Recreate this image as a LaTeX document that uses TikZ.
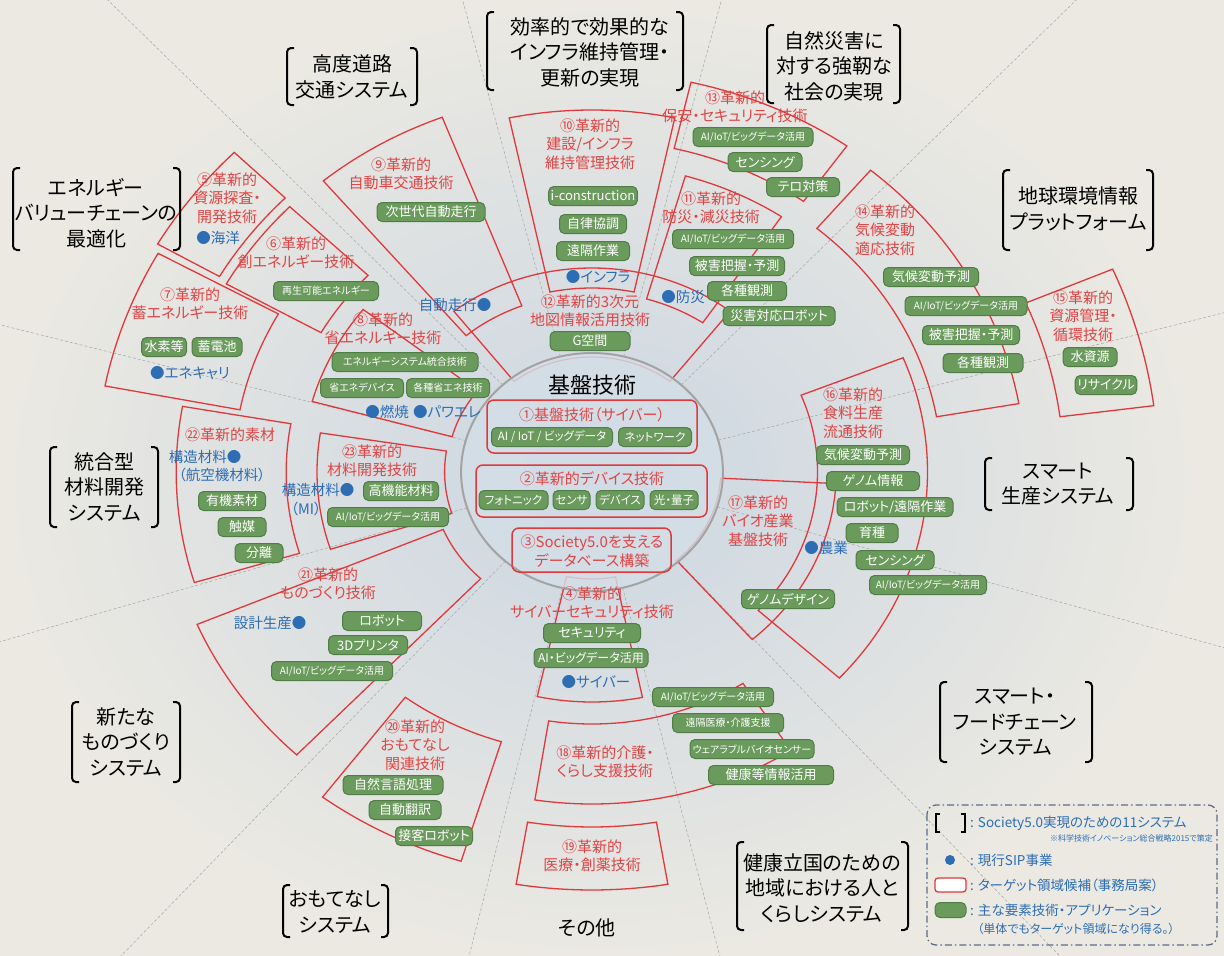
\documentclass[tikz,border=0pt]{standalone}
\usepackage{fontspec}
\setmainfont[RawFeature=+palt]{Noto Sans CJK JP}
\definecolor{bgc}{HTML}{EBE9E2}
\definecolor{bluebg}{HTML}{CBD6E2}
\definecolor{redl}{HTML}{E0383B}
\definecolor{redt}{HTML}{E04444}
\definecolor{pillg}{HTML}{6A9A5C}
\definecolor{pillb}{HTML}{4F7D45}
\definecolor{bluet}{HTML}{2D6DB3}
\definecolor{circf}{HTML}{D4DEE8}
\definecolor{circb}{HTML}{A3A3A3}
\definecolor{legc}{HTML}{5B6C8C}
\definecolor{radc}{HTML}{A5A5A5}
\newcommand\fansec[5][]{\draw[fanline,#1] (#2:#4pt) arc[start angle=#2,end angle=#3,radius=#4pt] -- (#3:#5pt) arc[start angle=#3,end angle=#2,radius=#5pt] -- cycle;}
\newcommand\brkt[4]{\draw[brk] (#1+7,#3) -- (#1,#3) -- (#1,#4) -- (#1+7,#4);
  \draw[brk] (#2-7,#3) -- (#2,#3) -- (#2,#4) -- (#2-7,#4);}
\begin{document}
\begin{tikzpicture}[x=1pt,y=-1pt,
  fanscope/.style={shift={(592,472)},xscale=1.1},
  fanline/.style={draw=redl,line width=1.3pt,line join=miter},
  radline/.style={draw=radc,line width=0.5pt,dash pattern=on 3pt off 2pt},
  rlab/.style={text=redt,align=center,inner sep=0pt,font=\fontsize{15}{18.5}\selectfont},
  blab/.style={text=bluet,align=center,inner sep=0pt,font=\fontsize{14.5}{18}\selectfont},
  pill/.style={draw=pillb,fill=pillg,text=white,rounded corners=5pt,minimum height=19pt,inner xsep=2pt,inner ysep=0pt,line width=1pt},
  pl/.style={pill,font=\fontsize{13}{13}\selectfont},
  ps/.style={pill,font=\fontsize{10}{10}\selectfont},
  pc/.style={pill,font=\fontsize{11.5}{11.5}\selectfont},
  sys/.style={text=black,align=center,inner sep=0pt,font=\fontsize{20}{25.5}\selectfont},
  brk/.style={draw=black,line width=2pt,rounded corners=4pt},
  redbox/.style={draw=redl,line width=1.5pt,rounded corners=7pt},
  legt/.style={text=bluet,anchor=west,inner sep=0pt,font=\fontsize{13.5}{15}\selectfont}]
\useasboundingbox (0,0) rectangle (1224,956);
\fill[bgc] (0,0) rectangle (1224,956);
\shade[inner color=bluebg,outer color=bgc] (600,480) ellipse[x radius=600pt,y radius=480pt];
% radial separators
\begin{scope}
\clip (0,0) rectangle (1224,956);
\begin{scope}[fanscope]
\foreach \a in {15.5,47,76,104,133,164.7,-162.5,-131.5,-103,-76.5,-48.7,-17}
  \draw[radline] (\a:119pt) -- (\a:950pt);
\end{scope}
\end{scope}
% target fans
\begin{scope}[fanscope]
\fansec{135.5}{150}{391}{456}
\fansec{136}{150.5}{283}{382}
\fansec{151}{169}{326}{451}
\fansec{142}{164.5}{132}{264}
\fansec{111}{130}{178}{380}
\fansec{78}{102}{184}{362}
\fansec{56}{74}{180}{308}
\fansec{52}{128}{115}{204}
\fansec{54.6}{77}{332}{400}
\fansec{10}{50}{318}{394}
\fansec{7.4}{23.2}{429}{515}
\fansec{-42.5}{22}{205}{305}
\fansec{-49}{-3}{117}{222}
\fansec{-102.5}{-78.5}{107}{230}
\fansec{-99}{-57}{252}{332}
\fansec{-99.5}{-80.5}{355}{418}
\fansec{-127}{-107}{282}{407}
\fansec{-157}{-133.5}{147}{390}
\fansec{170}{197}{278}{378}
\fansec{171}{198}{134}{250}
% central circle
\fill[circf,fill opacity=0.82] (0,0) circle[radius=119pt];
\draw[circb,line width=2pt] (0,0) circle[radius=119pt];
\end{scope}
% central boxes
\draw[redbox] (487,400) rectangle (697,453);
\draw[redbox] (476,465) rectangle (707,517);
\draw[redbox] (512,528) rectangle (671,572);
\node[text=black,inner sep=0pt,font=\fontsize{22}{22}\selectfont] (kiban) at (592,385) {基盤技術};
\node[rlab] (t1) at (592,415) {①基盤技術（サイバー）};
\node[pc,minimum width=121pt] (c1a) at (552,437) {AI / IoT / ビッグデータ};
\node[pc,minimum width=73pt] (c1b) at (655,437) {ネットワーク};
\node[rlab] (t2) at (592,479) {②革新的デバイス技術};
\node[pc,minimum width=69pt] (c2a) at (513.5,500) {フォトニック};
\node[pc,minimum width=37pt] (c2b) at (571.5,500) {センサ};
\node[pc,minimum width=48pt] (c2c) at (620,500) {デバイス};
\node[pc,minimum width=48pt] (c2d) at (674,500) {光・量子};
\node[rlab] (t3) at (592,551) {③Society5.0を支える\\データベース構築};
% 5
\node[rlab] (t5) at (227,198) {⑤革新的\\資源探査・\\開発技術};
\node[blab] (b5) at (218,238) {●海洋};
% 6
\node[rlab] (t6) at (296,253) {⑥革新的\\創エネルギー技術};
\node[ps,minimum width=105pt] (p6a) at (326,291) {再生可能エネルギー};
% 7
\node[rlab] (t7) at (190,304) {⑦革新的\\蓄エネルギー技術};
\node[pl,minimum width=45pt] (p7a) at (164,347) {水素等};
\node[pl,minimum width=50pt] (p7b) at (217,347) {蓄電池};
\node[blab] (b7) at (190,373) {●エネキャリ};
% 8
\node[rlab] (t8) at (383,329) {⑧革新的\\省エネルギー技術};
\node[ps,minimum width=146pt] (p8a) at (405,362) {エネルギーシステム統合技術};
\node[ps,minimum width=83pt] (p8b) at (362,388) {省エネデバイス};
\node[ps,minimum width=83pt] (p8c) at (448,388) {各種省エネ技術};
\node[blab] (b8a) at (387,412) {●燃焼};
\node[blab] (b8b) at (447,412) {●パワエレ};
% 9
\node[rlab] (t9) at (401,174) {⑨革新的\\自動車交通技術};
\node[pl,minimum width=108pt] (p9a) at (431,212) {次世代自動走行};
\node[blab] (b9) at (455,305) {自動走行●};
% 10
\node[rlab] (t10) at (590,144) {⑩革新的\\建設/インフラ\\維持管理技術};
\node[pl,minimum width=87pt] (p10a) at (593,196) {i-construction};
\node[pl,minimum width=67pt] (p10b) at (593,224) {自律協調};
\node[pl,minimum width=73pt] (p10c) at (593,251) {遠隔作業};
\node[blab] (b10) at (598,277) {●インフラ};
% 11
\node[rlab] (t11) at (711,208) {⑪革新的\\防災・減災技術};
\node[ps,minimum width=121pt] (p11a) at (733,239) {AI/IoT/ビッグデータ活用};
\node[pl,minimum width=95pt] (p11b) at (737,266) {被害把握・予測};
\node[pl,minimum width=79pt] (p11c) at (747,291) {各種観測};
\node[pl,minimum width=112pt] (p11d) at (779,316) {災害対応ロボット};
\node[blab] (b11) at (683,297) {●防災};
% 12
\node[rlab] (t12) at (590,311) {⑫革新的3次元\\地図情報活用技術};
\node[pl,minimum width=80pt] (p12a) at (590,341) {G空間};
% 13
\node[rlab] (t13) at (735,107) {⑬革新的\\保安・セキュリティ技術};
\node[ps,minimum width=120pt] (p13a) at (753,137) {AI/IoT/ビッグデータ活用};
\node[pl,minimum width=74pt] (p13b) at (765,162) {センシング};
\node[pl,minimum width=73pt] (p13c) at (803,187) {テロ対策};
% 14
\node[rlab] (t14) at (885,230) {⑭革新的\\気候変動\\適応技術};
\node[pl,minimum width=95pt] (p14a) at (931,277) {気候変動予測};
\node[ps,minimum width=122pt] (p14b) at (966,306) {AI/IoT/ビッグデータ活用};
\node[pl,minimum width=97pt] (p14c) at (971,335) {被害把握・予測};
\node[pl,minimum width=80pt] (p14d) at (983,363) {各種観測};
% 15
\node[rlab] (t15) at (1083,316) {⑮革新的\\資源管理・\\循環技術};
\node[pl,minimum width=54pt] (p15a) at (1090,357) {水資源};
\node[pl,minimum width=57pt] (p15b) at (1106,385) {リサイクル};
% 16
\node[rlab] (t16) at (853,413) {⑯革新的\\食料生産\\流通技術};
\node[pl,minimum width=93pt] (p16a) at (863,455) {気候変動予測};
\node[pl,minimum width=93pt] (p16b) at (873,481) {ゲノム情報};
\node[pl,minimum width=116pt] (p16c) at (895,507) {ロボット/遠隔作業};
\node[pl,minimum width=52pt] (p16d) at (872,533) {育種};
\node[pl,minimum width=78pt] (p16e) at (895,560) {センシング};
\node[ps,minimum width=117pt] (p16f) at (928,585) {AI/IoT/ビッグデータ活用};
\node[blab] (b16) at (826,548) {●農業};
% 17
\node[rlab] (t17) at (758,521) {⑰革新的\\バイオ産業\\基盤技術};
\node[pl,minimum width=93pt] (p17a) at (788,599) {ゲノムデザイン};
% 4
\node[rlab] (t4) at (592,603) {④革新的\\サイバーセキュリティ技術};
\node[pl,minimum width=97pt] (p4a) at (592,633) {セキュリティ};
\node[pill,font=\fontsize{12}{12}\selectfont,minimum width=114pt] (p4b) at (591,658) {AI・ビッグデータ活用};
\node[blab] (b4) at (596,682) {●サイバー};
% 18
\node[rlab] (t18) at (605,762) {⑱革新的介護・\\くらし支援技術};
\node[ps,minimum width=121pt] (p18a) at (713,697) {AI/IoT/ビッグデータ活用};
\node[ps,minimum width=111pt] (p18b) at (728,723) {遠隔医療・介護支援};
\node[ps,minimum width=124pt] (p18c) at (752,749) {ウェアラブルバイオセンサー};
\node[pl,minimum width=125pt] (p18d) at (771,775) {健康等情報活用};
% 19
\node[rlab] (t19) at (592,856) {⑲革新的\\医療・創薬技術};
% 20
\node[rlab] (t20) at (415,745) {⑳革新的\\おもてなし\\関連技術};
\node[pl,minimum width=100pt] (p20a) at (393,785) {自然言語処理};
\node[pl,minimum width=72pt] (p20b) at (405,810) {自動翻訳};
\node[pl,minimum width=77pt] (p20c) at (434,836) {接客ロボット};
% 21
\node[rlab] (t21) at (328,584) {㉑革新的\\ものづくり技術};
\node[pl,minimum width=79pt] (p21a) at (382,621) {ロボット};
\node[pl,minimum width=79pt] (p21b) at (368,645) {3Dプリンタ};
\node[ps,minimum width=121pt] (p21c) at (332,671) {AI/IoT/ビッグデータ活用};
\node[blab] (b21) at (270,623) {設計生産●};
% 22
\node[rlab] (t22) at (230,435) {㉒革新的素材};
\node[blab] (b22a) at (205,457) {構造材料●};
\node[blab] (b22b) at (222,475) {（航空機材料）};
\node[pl,minimum width=67pt] (p22a) at (232,501) {有機素材};
\node[pl,minimum width=48pt] (p22b) at (242,527) {触媒};
\node[pl,minimum width=48pt] (p22c) at (259,553) {分離};
% 23
\node[rlab] (t23) at (372,461) {㉓革新的\\材料開発技術};
\node[blab] (b23a) at (318,490) {構造材料●};
\node[blab] (b23b) at (306,509) {（MI）};
\node[pl,minimum width=75pt] (p23a) at (401,491) {高機能材料};
\node[ps,minimum width=121pt] (p23b) at (388,517) {AI/IoT/ビッグデータ活用};
% systems
\node[sys] (s1) at (352,77) {高度道路\\交通システム}; \brkt{287}{417}{48}{105}
\node[sys] (s2) at (590,52) {効率的で効果的な\\インフラ維持管理・\\更新の実現}; \brkt{487}{683}{12}{90}
\node[sys] (s3) at (834,66) {自然災害に\\対する強靭な\\社会の実現}; \brkt{767}{900}{25}{103}
\node[sys] (s4) at (1078,209) {地球環境情報\\プラットフォーム}; \brkt{1003}{1153}{170}{250}
\node[sys] (s5) at (1058,484) {スマート\\生産システム}; \brkt{985}{1133}{458}{510}
\node[sys] (s6) at (1015,722) {スマート・\\フードチェーン\\システム}; \brkt{940}{1092}{682}{762}
\node[sys] (s7) at (822,888) {健康立国のための\\地域における人と\\くらしシステム}; \brkt{737}{908}{842}{930}
\node[sys] (s8) at (587,928) {その他};
\node[sys] (s9) at (335,912) {おもてなし\\システム}; \brkt{283}{388}{885}{937}
\node[sys] (s10) at (126,742) {新たな\\ものづくり\\システム}; \brkt{72}{180}{702}{782}
\node[sys] (s11) at (104,487) {統合型\\材料開発\\システム}; \brkt{50}{158}{447}{527}
\node[sys] (s12) at (96,213) {エネルギー\\バリューチェーンの\\最適化}; \brkt{13}{180}{168}{250}
% legend
\draw[draw=legc,line width=1.3pt,dash pattern=on 7pt off 3pt on 1.5pt off 3pt,rounded corners=9pt] (927,805) rectangle (1217,945);
\draw[draw=black,line width=1.3pt] (940,814) -- (936,814) -- (936,832) -- (940,832);
\draw[draw=black,line width=1.3pt] (961,814) -- (965,814) -- (965,832) -- (961,832);
\node[legt] (l1) at (970,823) {: Society5.0実現のための11システム};
\node[text=bluet,anchor=east,inner sep=0pt,font=\fontsize{8}{8}\selectfont] (l1n) at (1213,838) {※科学技術イノベーション総合戦略2015で策定};
\fill[bluet] (950,860) circle[radius=5pt];
\node[legt] (l2) at (970,860) {: 現行SIP事業};
\node[draw=redl,line width=1.3pt,fill=white,rounded corners=3pt,minimum width=31pt,minimum height=14pt,inner sep=0pt] (l3b) at (950.5,885) {};
\node[legt] (l3) at (970,885) {: ターゲット領域候補（事務局案）};
\node[pill,minimum width=31pt,minimum height=15pt,inner sep=0pt] (l4b) at (950.5,910) {};
\node[legt] (l4) at (970,910) {: 主な要素技術・アプリケーション};
\node[text=bluet,inner sep=0pt,font=\fontsize{12}{12}\selectfont] (l5) at (1076,929) {（単体でもターゲット領域になり得る。）};
\end{tikzpicture}
\end{document}
